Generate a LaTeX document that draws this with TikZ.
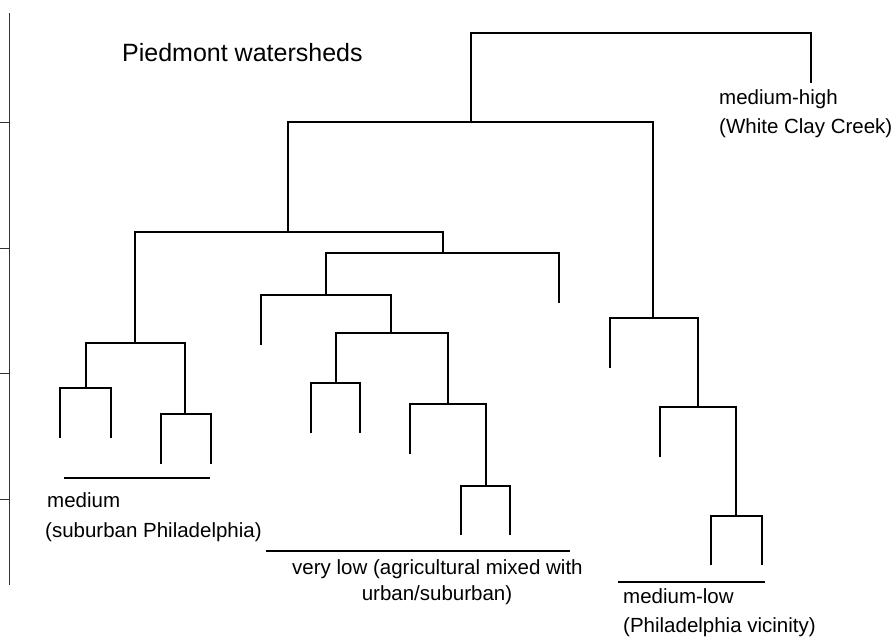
\documentclass[tikz,border=0pt]{standalone}
\usepackage{fontspec}
\setmainfont{Liberation Sans}
\begin{document}
\begin{tikzpicture}[x=1pt,y=-1pt,
  branch/.style={line width=1.2pt,line cap=rect},
  axisline/.style={line width=0.9pt,black!80},
  lbl/.style={anchor=base west,inner sep=0pt,font=\fontsize{20.5}{24}\selectfont},
  lblc/.style={anchor=base,inner sep=0pt,font=\fontsize{20.5}{24}\selectfont},
  ttl/.style={anchor=base west,inner sep=0pt,font=\fontsize{25}{30}\selectfont},
  groupline/.style={line width=1.2pt}]
\useasboundingbox (0,0) rectangle (894,639);
% axis
\coordinate (axT) at (9,13);
\coordinate (axB) at (9,585);
\draw[axisline] (axT) -- (axB);
\foreach \yy [count=\i] in {122,248,373,499}{
  \coordinate (tk\i) at (0,\yy);
  \draw[axisline] (tk\i) -- (9,\yy);
}
% internal nodes (junction points on horizontal bars)
\coordinate (root) at (641,33);
\coordinate (nA) at (471,122);
\coordinate (nB) at (288,232);
\coordinate (nC) at (653,318);
\coordinate (nD) at (135,343);
\coordinate (nE) at (443,253);
\coordinate (nF) at (86,388);
\coordinate (nG) at (185,414);
\coordinate (nH) at (326,295);
\coordinate (nJ) at (391,333);
\coordinate (nK) at (336,383);
\coordinate (nL) at (448,404);
\coordinate (nM) at (486,486);
\coordinate (nN) at (698,407);
\coordinate (nP) at (736,516);
% leaves
\coordinate (lWC) at (811,82);
\coordinate (l1) at (60,437);
\coordinate (l2) at (111,437);
\coordinate (l3) at (161,463);
\coordinate (l4) at (211,463);
\coordinate (l5) at (261,344);
\coordinate (l6) at (311,432);
\coordinate (l7) at (360,432);
\coordinate (l8) at (410,453);
\coordinate (l9) at (461,534);
\coordinate (l10) at (510,534);
\coordinate (l11) at (559,302);
\coordinate (l12) at (610,367);
\coordinate (l13) at (660,456);
\coordinate (l14) at (711,564);
\coordinate (l15) at (762,564);
% branches
\draw[branch] (nA) |- (root) -| (lWC);
\draw[branch] (nB) |- (nA) -| (nC);
\draw[branch] (nD) |- (nB) -| (nE);
\draw[branch] (nF) |- (nD) -| (nG);
\draw[branch] (l1) |- (nF) -| (l2);
\draw[branch] (l3) |- (nG) -| (l4);
\draw[branch] (nH) |- (nE) -| (l11);
\draw[branch] (l5) |- (nH) -| (nJ);
\draw[branch] (nK) |- (nJ) -| (nL);
\draw[branch] (l6) |- (nK) -| (l7);
\draw[branch] (l8) |- (nL) -| (nM);
\draw[branch] (l9) |- (nM) -| (l10);
\draw[branch] (l12) |- (nC) -| (nN);
\draw[branch] (l13) |- (nN) -| (nP);
\draw[branch] (l14) |- (nP) -| (l15);
% group underlines
\coordinate (g1a) at (64,478);  \coordinate (g1b) at (210,478);
\coordinate (g2a) at (266,551); \coordinate (g2b) at (570,551);
\coordinate (g3a) at (618,582); \coordinate (g3b) at (765,582);
\draw[groupline] (g1a) -- (g1b);
\draw[groupline] (g2a) -- (g2b);
\draw[groupline] (g3a) -- (g3b);
% texts
\node[ttl] (title) at (122,62) {Piedmont watersheds};
\node[lbl] (mh1) at (719,105) {medium-high};
\node[lbl] (mh2) at (719,134) {(White Clay Creek)};
\node[lbl] (m1) at (47,507) {medium};
\node[lbl] (m2) at (45,537) {(suburban Philadelphia)};
\node[lbl] (vl1) at (292,574) {very low (agricultural mixed with};
\node[lblc] (vl2) at (437,600) {urban/suburban)};
\node[lbl] (ml1) at (623,603) {medium-low};
\node[lbl] (ml2) at (623,632) {(Philadelphia vicinity)};
\end{tikzpicture}
\end{document}
